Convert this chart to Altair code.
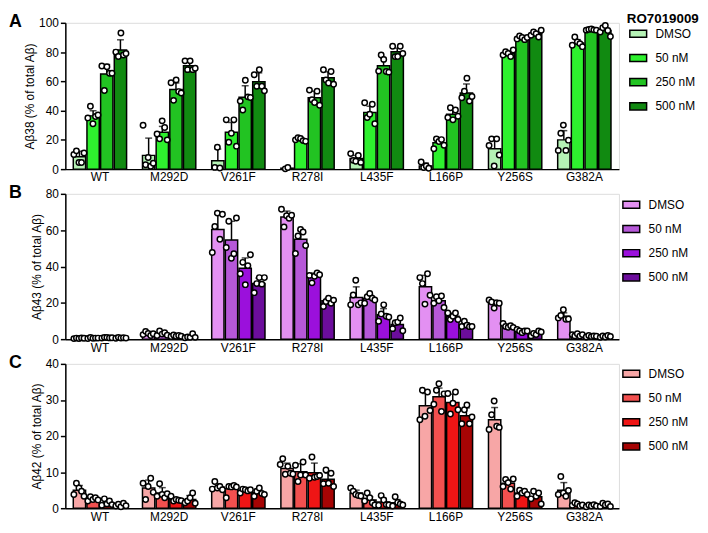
import altair as alt
import pandas as pd

FONT = "Liberation Sans"

mutants = ["WT", "M292D", "V261F", "R278I", "L435F", "L166P", "Y256S", "G382A"]
conds = ["DMSO", "50 nM", "250 nM", "500 nM"]

# ---------------- Panel A: Abeta38 ----------------
ab38_mean = [
    [8.5, 36.4, 65.0, 81.4],
    [9.4, 25.2, 54.4, 70.6],
    [5.7, 25.2, 49.2, 59.8],
    [0.65, 20.2, 48.8, 62.5],
    [7.2, 38.7, 70.6, 80.2],
    [2.2, 18.0, 37.5, 52.1],
    [13.9, 79.1, 89.7, 92.6],
    [20.0, 86.3, 95.3, 94.8],
]
ab38_sd = [
    [3.7, 3.5, 6.5, 7.0],
    [11.8, 4.0, 4.5, 2.5],
    [8.0, 6.7, 7.8, 6.0],
    [0.6, 1.0, 4.5, 4.0],
    [2.2, 4.3, 5.1, 2.5],
    [2.0, 1.8, 3.8, 6.1],
    [7.2, 1.5, 0.8, 1.2],
    [6.3, 2.2, 0.5, 1.8],
]
ab38_pts = [
    [[10, 12.5, 4.5, 4.5, 11], [35, 43, 31, 36, 37], [70.5, 53.7, 70, 65.5, 65.5], [80, 77, 93, 78, 79]],
    [[30, 3, 8, 2, 4], [24, 20.7, 33, 28.5, 20], [59, 47, 61, 53, 52], [74, 68, 74, 68, 69]],
    [[1.2, 15, 0.8], [33.7, 18.4, 24.5, 33.7, 15.7], [46.5, 40.4, 60.7, 49.4, 49], [64.5, 56.6, 67.9, 56.6, 53.5]],
    [[0.2, 1.1], [20, 21.5, 21, 19.5, 19], [54, 47.5, 45.5, 53.3, 43.7], [67.9, 61, 58.9, 66.7, 58]],
    [[10.6, 6, 5.4, 9.4, 4.6], [45.4, 35.3, 37.5, 44.3, 31], [67, 78, 75, 66.7, 66.3], [84, 76.9, 77, 84, 79]],
    [[4.9, 1.1, 2.2, 0.6], [13.9, 20.7, 18.9, 20.2, 16.3], [35.3, 42, 33.7, 40.4, 36.1], [48.8, 53.3, 62.2, 46.5, 49.7]],
    [[16.2, 20.7, 2.2, 20.7, 9.7], [78, 80.2, 79, 76.9, 81.4], [89, 91, 90, 88.5, 90], [91.5, 93.7, 92.6, 90.3, 94.9]],
    [[12.8, 24.5, 30.1, 12.8, 19.8], [84.7, 90.3, 87, 85.8, 83.7], [95, 95.5, 95.8, 95.2, 95], [93.7, 96.6, 98.2, 94.8, 90.7]],
]

# ---------------- Panel B: Abeta43 ----------------
ab43_mean = [
    [0.5, 0.6, 0.8, 0.7],
    [3.0, 3.0, 1.8, 1.4],
    [60.4, 54.6, 39.1, 30.6],
    [67.2, 55.0, 34.6, 21.1],
    [22.9, 22.5, 13.5, 8.1],
    [28.8, 21.1, 12.6, 7.7],
    [19.8, 7.2, 4.5, 3.2],
    [12.6, 2.3, 1.6, 1.5],
]
ab43_sd = [
    [0.3, 0.3, 0.3, 0.3],
    [0.8, 0.9, 0.4, 0.8],
    [8.4, 10.3, 5.6, 3.0],
    [3.3, 4.8, 1.8, 1.5],
    [5.9, 2.0, 3.3, 2.1],
    [6.3, 2.6, 1.8, 1.3],
    [1.6, 0.9, 0.8, 1.0],
    [1.9, 0.6, 0.4, 0.5],
]
ab43_pts = [
    [[0.3, 0.6, 0.4, 0.7, 0.5], [0.4, 0.9, 0.5, 0.6, 0.6], [0.6, 1.0, 0.9, 0.7, 0.8], [0.5, 1.0, 0.6, 0.8, 0.6]],
    [[2.5, 4.3, 3.2, 2.0, 3.0], [2.0, 4.5, 2.8, 3.5, 2.2], [1.5, 2.3, 1.6, 2.0, 1.6], [0.8, 1.2, 1.0, 3.0, 1.0]],
    [[47.7, 62, 69.4, 55, 68.8], [50.5, 64.9, 44.5, 47, 66.7], [36, 42.3, 30, 40.5, 46.5], [25.6, 30.6, 33.9, 30.3, 33.9]],
    [[71.5, 61.8, 68, 66.5, 68.2], [47.2, 56.8, 60.4, 59, 51.6], [35.1, 31, 34.6, 36.5, 35.5], [18, 20.7, 22.5, 19.8, 21.5]],
    [[18.9, 24.3, 32.4, 18.9, 20], [19.8, 23.4, 25.2, 22.5, 21.6], [9.9, 13.9, 18.9, 12.6, 12.2], [5.8, 9.0, 9.4, 11.7, 4.6]],
    [[33.9, 30.6, 19.3, 36, 24.2], [19.8, 23.4, 21.1, 23.8, 17.4], [14.4, 10.8, 12.6, 14.4, 10.8], [7, 9.9, 7.7, 6.9, 7]],
    [[21.6, 20.5, 17.1, 20.0, 19.8], [8.6, 7.0, 6.5, 7.4, 6.5], [5.4, 4.5, 3.6, 4.5, 4.5], [1.8, 3.2, 2.5, 4.5, 4.0]],
    [[11.7, 13, 16.2, 11, 11.1], [2.5, 1.8, 3.0, 1.7, 2.5], [1.2, 2.0, 1.4, 1.8, 1.6], [1.0, 1.8, 1.2, 2.0, 1.5]],
]

# ---------------- Panel C: Abeta42 ----------------
ab42_mean = [
    [5.0, 2.4, 1.5, 0.8],
    [5.6, 4.2, 2.4, 2.4],
    [5.9, 5.4, 4.9, 4.3],
    [11.0, 10.1, 9.8, 8.0],
    [4.2, 2.3, 1.7, 1.5],
    [28.4, 30.9, 29.3, 25.6],
    [24.5, 6.9, 4.2, 3.2],
    [5.0, 1.0, 0.7, 0.9],
]
ab42_sd = [
    [1.3, 0.5, 0.6, 0.4],
    [2.2, 1.5, 0.5, 1.1],
    [0.9, 1.2, 0.5, 0.8],
    [1.5, 2.2, 2.7, 1.7],
    [0.8, 0.9, 1.0, 0.9],
    [3.4, 2.4, 2.3, 2.2],
    [3.4, 1.0, 0.7, 0.9],
    [2.1, 0.4, 0.3, 0.4],
]
ab42_pts = [
    [[3.8, 6.9, 5.6, 4.7, 3.3], [2.0, 3.2, 2.4, 2.9, 2.3], [0.8, 2.6, 1.2, 2.0, 1.0], [0.6, 1.1, 0.4, 1.4, 0.7]],
    [[6.9, 2.4, 6.0, 8.3, 4.4], [3.3, 6.8, 3.8, 2.9, 4.0], [3.3, 2.0, 2.4, 2.2, 2.1], [1.5, 2.0, 2.9, 4.2, 1.4]],
    [[5.3, 7.4, 5.6, 6.0, 5.1], [2.9, 6.0, 5.9, 6.3, 5.9], [4.2, 5.3, 5.1, 4.8, 5.1], [3.3, 4.7, 5.6, 4.1, 3.8]],
    [[12.1, 13.7, 9.4, 11.6, 9.7, 9.5], [11.9, 7.4, 9.2, 12.8, 9.2], [8.3, 14.2, 8.6, 8.8, 9.1], [6.8, 10.6, 6.9, 9.7, 6.0]],
    [[5.6, 4.7, 3.8, 3.5, 3.4], [2.0, 4.2, 2.9, 1.5, 0.9], [0.8, 3.5, 2.3, 1.0, 0.9], [0.6, 3.2, 1.6, 1.2, 0.9]],
    [[24.5, 32.7, 25.5, 32.2, 27.1], [28.8, 32.7, 34.5, 26.8, 31.7], [31.8, 26.1, 29.1, 32.2, 27.3], [23.4, 27.3, 28.6, 23.4, 25.3]],
    [[21.8, 25.9, 29.7, 22.7, 22.4], [6.0, 8.0, 7.1, 5.3, 8.1], [3.3, 5.0, 4.2, 4.7, 3.8], [2.6, 4.7, 3.3, 4.2, 1.2]],
    [[3.8, 8.8, 4.2, 3.3, 4.9], [0.8, 1.5, 1.2, 0.6, 0.9], [0.4, 0.9, 0.6, 1.0, 0.6], [0.5, 1.4, 0.9, 1.2, 0.5]],
]

green = ["#b5f2b5", "#2ef02e", "#22c322", "#118a11"]
purple = ["#e390f2", "#b658d8", "#9b10dc", "#6c0d9c"]
red = ["#f7a6a6", "#f2504f", "#ef1515", "#a60404"]

NSLOT = 11
slot_domain = [f"{c}|{s}" for c in conds for s in range(NSLOT)]


def panel(mean, sd, pts, colors, ytitle, ymax, ystep, letter, legend_title,
          lx, ly, height):
    bar_rows, pt_rows = [], []
    for i, m in enumerate(mutants):
        for j, c in enumerate(conds):
            bar_rows.append({"mutant": m, "cond": c, "mean": mean[i][j],
                             "hi": mean[i][j] + sd[i][j]})
            vals = pts[i][j]
            n = len(vals)
            for k, v in enumerate(vals):
                s = 5 + 2 * k - (n - 1)
                pt_rows.append({"mutant": m, "cond": c, "slot": f"{c}|{s}", "value": v})
    bdf = pd.DataFrame(bar_rows)
    pdf = pd.DataFrame(pt_rows)

    xenc = alt.X("mutant:N", sort=mutants,
                 scale=alt.Scale(paddingInner=0.21, paddingOuter=0.105),
                 axis=alt.Axis(title=None, labelAngle=0, ticks=False, labelPadding=3,
                               labelFontSize=12, labelFont=FONT, labelColor="black",
                               domainColor="black", domainWidth=1.5))
    yaxis = alt.Axis(title=ytitle, grid=False, values=list(range(0, ymax + 1, ystep)),
                     tickSize=5, tickWidth=1.5, tickColor="black",
                     domainColor="black", domainWidth=1.5,
                     labelFontSize=12, labelFont=FONT, labelColor="black", labelPadding=2,
                     titleFontSize=12, titleFont=FONT, titleFontWeight="normal",
                     titleColor="black", titlePadding=2)
    yscale = alt.Scale(domain=[0, ymax], nice=False)
    offs = alt.XOffset("cond:N", sort=conds,
                       scale=alt.Scale(domain=conds, paddingInner=0.1, paddingOuter=0.05))

    legend = alt.Legend(
        orient="none", legendX=lx, legendY=ly, padding=0, title=None,
        symbolType="M-1,-0.42H1V0.42H-1Z", symbolSize=289,
        symbolStrokeColor="black", symbolStrokeWidth=1.5, symbolOpacity=1,
        labelFontSize=12, labelFont=FONT, labelColor="black", labelOffset=8,
        rowPadding=7.5,
    )

    base = alt.Chart(bdf)
    bars = base.mark_bar(stroke="black", strokeWidth=1.5, opacity=1).encode(
        x=xenc, xOffset=offs,
        y=alt.Y("mean:Q", scale=yscale, axis=yaxis),
        fill=alt.Fill("cond:N", sort=conds,
                      scale=alt.Scale(domain=conds, range=colors), legend=legend),
    )
    err = base.mark_rule(color="black", strokeWidth=1.5).encode(
        x=xenc, xOffset=offs,
        y=alt.Y("mean:Q", scale=yscale, axis=yaxis), y2="hi:Q")
    cap = base.mark_tick(color="black", thickness=1.5, size=7, orient="horizontal").encode(
        x=xenc, xOffset=offs, y=alt.Y("hi:Q", scale=yscale, axis=yaxis))
    inner = alt.layer(bars, err, cap)

    dots = alt.Chart(pdf).mark_point(shape="circle", filled=True, fill="white",
                                      stroke="black", strokeWidth=1.5, size=30,
                                      opacity=1).encode(
        x=xenc,
        xOffset=alt.XOffset("slot:N", sort=slot_domain,
                            scale=alt.Scale(domain=slot_domain, paddingInner=0, paddingOuter=0)),
        y=alt.Y("value:Q", scale=yscale, axis=yaxis),
    )
    lab = alt.Chart(pd.DataFrame({"t": [letter]})).mark_text(
        align="left", baseline="middle", fontSize=18, fontWeight="bold", font=FONT,
        color="black").encode(x=alt.value(-57), y=alt.value(-1), text="t:N")

    layers = [inner, dots, lab]
    if legend_title:
        ttl = alt.Chart(pd.DataFrame({"t": [legend_title]})).mark_text(
            align="left", baseline="middle", fontSize=13.5, fontWeight="bold", font=FONT,
            color="black").encode(x=alt.value(lx - 2), y=alt.value(-4), text="t:N")
        layers.append(ttl)

    return alt.layer(*layers).resolve_scale(xOffset="independent").properties(
        width=560, height=height)


pA = panel(ab38_mean, ab38_sd, ab38_pts, green, "Aβ38 (% of total Aβ)", 100, 20, "A",
           "RO7019009", 570, 1.5, 148)
pB = panel(ab43_mean, ab43_sd, ab43_pts, purple, "Aβ43 (% of total Aβ)", 80, 20, "B",
           None, 563, 1.5, 147)
pC = panel(ab42_mean, ab42_sd, ab42_pts, red, "Aβ42 (% of total Aβ)", 40, 10, "C",
           None, 563, 0.5, 146)

chart = alt.vconcat(pA, pB, pC, spacing=25, bounds="flush").resolve_scale(
    fill="independent").resolve_legend(fill="independent").properties(
    padding={"left": 0, "top": 0, "right": 0, "bottom": 0}
).configure_view(stroke=None).configure(background="white")

chart.save("out.html", embed_options={"renderer": "svg", "actions": False})
